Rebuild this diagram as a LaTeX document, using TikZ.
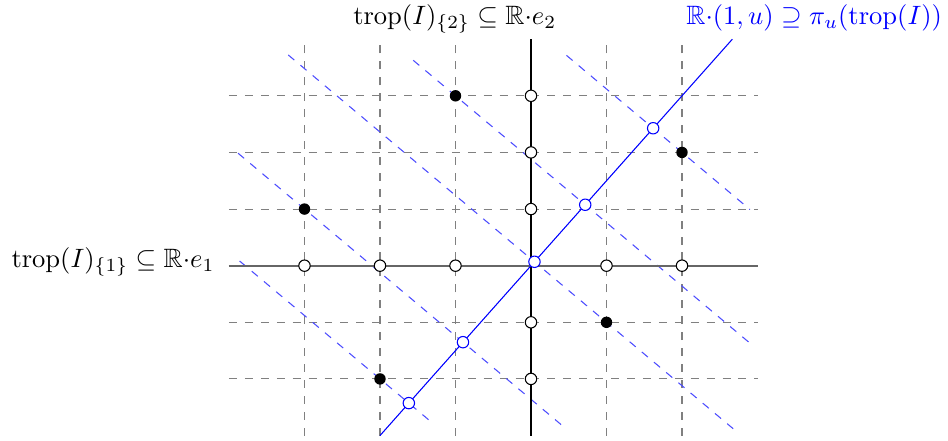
\documentclass[tikz,border=0pt]{standalone}
\usepackage{amssymb}

\begin{document}
\begin{tikzpicture}[x=1cm, y=0.75cm,
  gridline/.style={dashed, gray},
  fiber/.style={dashed, blue!70},
  pt/.style={circle, inner sep=0pt, minimum size=4.3pt},
  full/.style={pt, fill=black},
  hollow/.style={pt, draw=black, fill=white},
  bhollow/.style={pt, draw=blue, fill=white},
  lab/.style={inner sep=0pt, anchor=base}]
\useasboundingbox (-7.033cm,-2.309cm) rectangle (5.523cm,3.519cm);
% grid
\foreach \i in {-3,...,2} \draw[gridline] (\i,-3) -- (\i,4);
\foreach \j in {-2,...,3} \draw[gridline] (-4,\j) -- (3,\j);
% fibres of the projection
\draw[fiber] (-1.56,3.627) -- (2.94,-1.413);
\draw[fiber] (0.47,3.714) -- (2.90,0.992);
\draw[fiber] (-3.88,1.986) -- (0.45,-2.864);
\draw[fiber] (-3.215,3.721) -- (2.70,-2.904);
\draw[fiber] (-3.86,0.083) -- (-1.29,-2.795);
% axes and line
\draw[black!60, line width=0.7pt] (-4,0) -- (3,0);
\draw (0,-3) -- (0,4);
\draw[blue] (-2,-3) -- (2.667,4);
% points
\node[full] (p1) at (-1,3) {};
\node[full] (p2) at (2,2) {};
\node[full] (p3) at (-3,1) {};
\node[full] (p4) at (1,-1) {};
\node[full] (p5) at (-2,-2) {};
% projections on the axes
\foreach \i in {-3,-2,-1,1,2} \node[hollow] (x\i) at (\i,0) {};
\foreach \j in {-2,-1,1,2,3} \node[hollow] (y\j) at (0,\j) {};
% projections on the line
\node[bhollow] (q1) at (0.718,1.076) {};
\node[bhollow] (q2) at (1.618,2.427) {};
\node[bhollow] (q3) at (-0.901,-1.351) {};
\node[bhollow] (q4) at (0.046,0.069) {};
\node[bhollow] (q5) at (-1.618,-2.427) {};
% labels
\node[lab, anchor=base east] (lx) at (-4.185cm,-0.02cm) {$\mathrm{trop}(I)_{\{1\}}\subseteq\mathbb{R}{\cdot}e_1$};
\node[lab] (ly) at (-1.01cm,3.2cm) {$\mathrm{trop}(I)_{\{2\}}\subseteq\mathbb{R}{\cdot}e_2$};
\node[lab, blue] (lu) at (3.75cm,3.2cm) {$\mathbb{R}{\cdot}(1,u)\supseteq\pi_u(\mathrm{trop}(I))$};
\end{tikzpicture}
\end{document}
